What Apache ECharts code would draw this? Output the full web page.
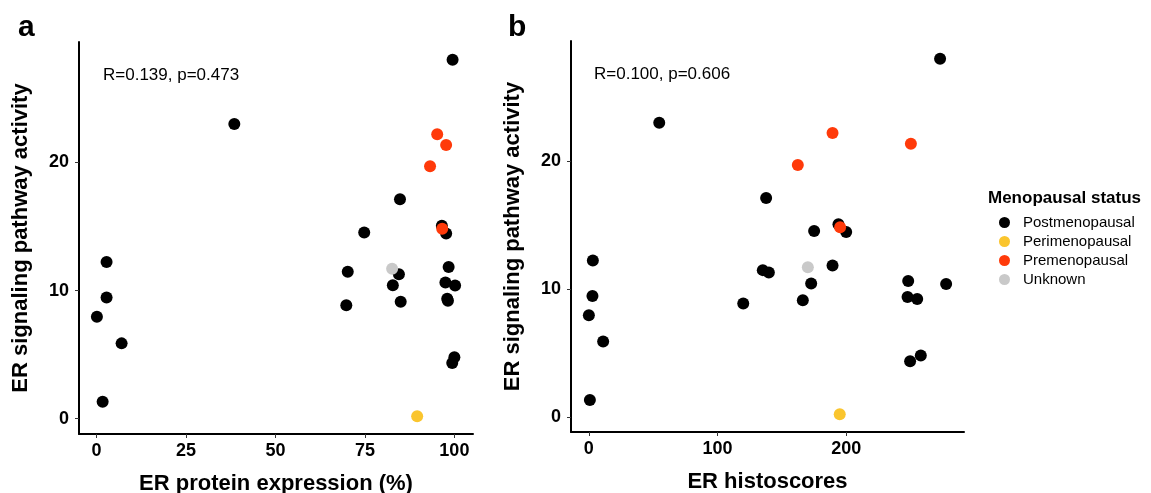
<!DOCTYPE html>
<html>
<head>
<meta charset="utf-8">
<title>ER signaling pathway activity</title>
<script src="https://cdn.jsdelivr.net/npm/echarts@6/dist/echarts.min.js"></script>
<style>
  html, body { margin: 0; padding: 0; background: #fff; }
  #chart { width: 1151px; height: 493px; }
</style>
</head>
<body>
<div id="chart"></div>
<script>
// values, one entry per patient
var activity  = [28.0, 23.0, 22.2, 21.35, 19.7, 17.12, 15.05, 14.82, 14.46, 14.53, 12.23, 11.47, 11.7, 11.28, 11.84, 10.42, 10.62, 10.39, 9.45, 8.86, 9.12, 9.36, 9.21, 7.95, 5.88, 4.8, 4.35, 1.32, 0.2];
var erProtein = [99.5, 38.5, 95.2, 97.7, 93.2, 84.8, 96.5, 96.6, 97.7, 74.8, 2.8, 70.2, 82.6, 84.5, 98.4, 82.8, 97.5, 100.2, 2.8, 69.8, 85.0, 98.0, 98.2, 0.1, 7.0, 100.0, 99.4, 1.7, 89.6];
var histoscore = [273, 54.7, 189.4, 250.3, 162.4, 137.8, 194, 195.3, 200, 175.1, 3.1, 135.2, 170.2, 139.9, 189.4, 172.8, 248.2, 277.7, 2.8, 120, 166.3, 247.7, 255.2, 0, 11.1, 258, 249.7, 0.8, 195];
var menoStatus = ['Post', 'Post', 'Pre', 'Pre', 'Pre', 'Post', 'Post', 'Pre', 'Post', 'Post', 'Post', 'Post', 'Unknown', 'Post', 'Post', 'Post', 'Post', 'Post', 'Post', 'Post', 'Post', 'Post', 'Post', 'Post', 'Post', 'Post', 'Post', 'Post', 'Peri'];

var groups = ['Post', 'Peri', 'Pre', 'Unknown'];
var groupNames = ['Postmenopausal', 'Perimenopausal', 'Premenopausal', 'Unknown'];
var groupColors = ['#000000', '#FAC52E', '#FF3A0A', '#C9C9C9'];

var ticksY = [0, 10, 20];
var ticksProtein = [0, 25, 50, 75, 100];
var ticksHisto = [0, 100, 200];

var statsA = 'R=0.139, p=0.473';
var statsB = 'R=0.100, p=0.606';

var FONT = '"Liberation Sans", Arial, Helvetica, sans-serif';

// ggplot style 5% expansion
function padRange(arr) {
    var lo = Math.min.apply(null, arr), hi = Math.max.apply(null, arr);
    var pad = (hi - lo) * 0.05;
    return [lo - pad, hi + pad];
}

function valueAxis(grid, r, ticks, name, isY) {
    return {
        type: 'value',
        gridIndex: grid,
        min: r[0],
        max: r[1],
        name: name,
        nameLocation: 'middle',
        nameGap: isY ? 47 : 39,
        nameTextStyle: { fontFamily: FONT, fontSize: 22, fontWeight: 'bold', color: '#000' },
        axisLine: { show: true, onZero: false, lineStyle: { color: '#000', width: 2 } },
        axisTick: { show: true, length: 4, customValues: ticks, lineStyle: { color: '#333', width: 1 } },
        axisLabel: {
            customValues: ticks, margin: isY ? 10 : 8,
            fontFamily: FONT, fontSize: 18, fontWeight: 'bold', color: '#000'
        },
        splitLine: { show: false }
    };
}

var yr = padRange(activity);
var series = [];
[0, 1].forEach(function (g) {
    var xs = g === 0 ? erProtein : histoscore;
    groups.forEach(function (key, k) {
        var pts = [];
        for (var i = 0; i < activity.length; i++) {
            if (menoStatus[i] === key) pts.push([xs[i], activity[i]]);
        }
        series.push({
            name: groupNames[k],
            type: 'scatter',
            xAxisIndex: g,
            yAxisIndex: g,
            symbol: 'circle',
            symbolSize: 12,
            itemStyle: { color: groupColors[k], opacity: 1 },
            emphasis: { disabled: true },
            data: pts
        });
    });
});

var chart = echarts.init(document.getElementById('chart'));
chart.setOption({
    animation: false,
    backgroundColor: '#fff',
    title: [
        { text: 'a', left: 13, top: 8, textStyle: { fontFamily: FONT, fontSize: 30, fontWeight: 'bold', color: '#000' } },
        { text: 'b', left: 503, top: 8, textStyle: { fontFamily: FONT, fontSize: 30, fontWeight: 'bold', color: '#000' } },
        { text: statsA, left: 98, top: 62, textStyle: { fontFamily: FONT, fontSize: 17, fontWeight: 'normal', color: '#000' } },
        { text: statsB, left: 589, top: 61, textStyle: { fontFamily: FONT, fontSize: 17, fontWeight: 'normal', color: '#000' } },
        { text: 'Menopausal status', left: 983, top: 185, textStyle: { fontFamily: FONT, fontSize: 17, fontWeight: 'bold', color: '#000' } }
    ],
    legend: {
        orient: 'vertical',
        left: 994,
        top: 210,
        icon: 'circle',
        itemWidth: 11,
        itemHeight: 11,
        itemGap: 4,
        selectedMode: false,
        data: groupNames,
        itemStyle: { opacity: 1 },
        textStyle: { fontFamily: FONT, fontSize: 15, color: '#000', lineHeight: 15, padding: [0, 0, 0, 8] }
    },
    grid: [
        { left: 79, top: 42, width: 394, height: 392, outerBoundsMode: 'none' },
        { left: 571, top: 41, width: 393, height: 391, outerBoundsMode: 'none' }
    ],
    xAxis: [
        valueAxis(0, padRange(erProtein), ticksProtein, 'ER protein expression (%)', false),
        valueAxis(1, padRange(histoscore), ticksHisto, 'ER histoscores', false)
    ],
    yAxis: [
        valueAxis(0, yr, ticksY, 'ER signaling pathway activity', true),
        valueAxis(1, yr, ticksY, 'ER signaling pathway activity', true)
    ],
    series: series
});
</script>
</body>
</html>
